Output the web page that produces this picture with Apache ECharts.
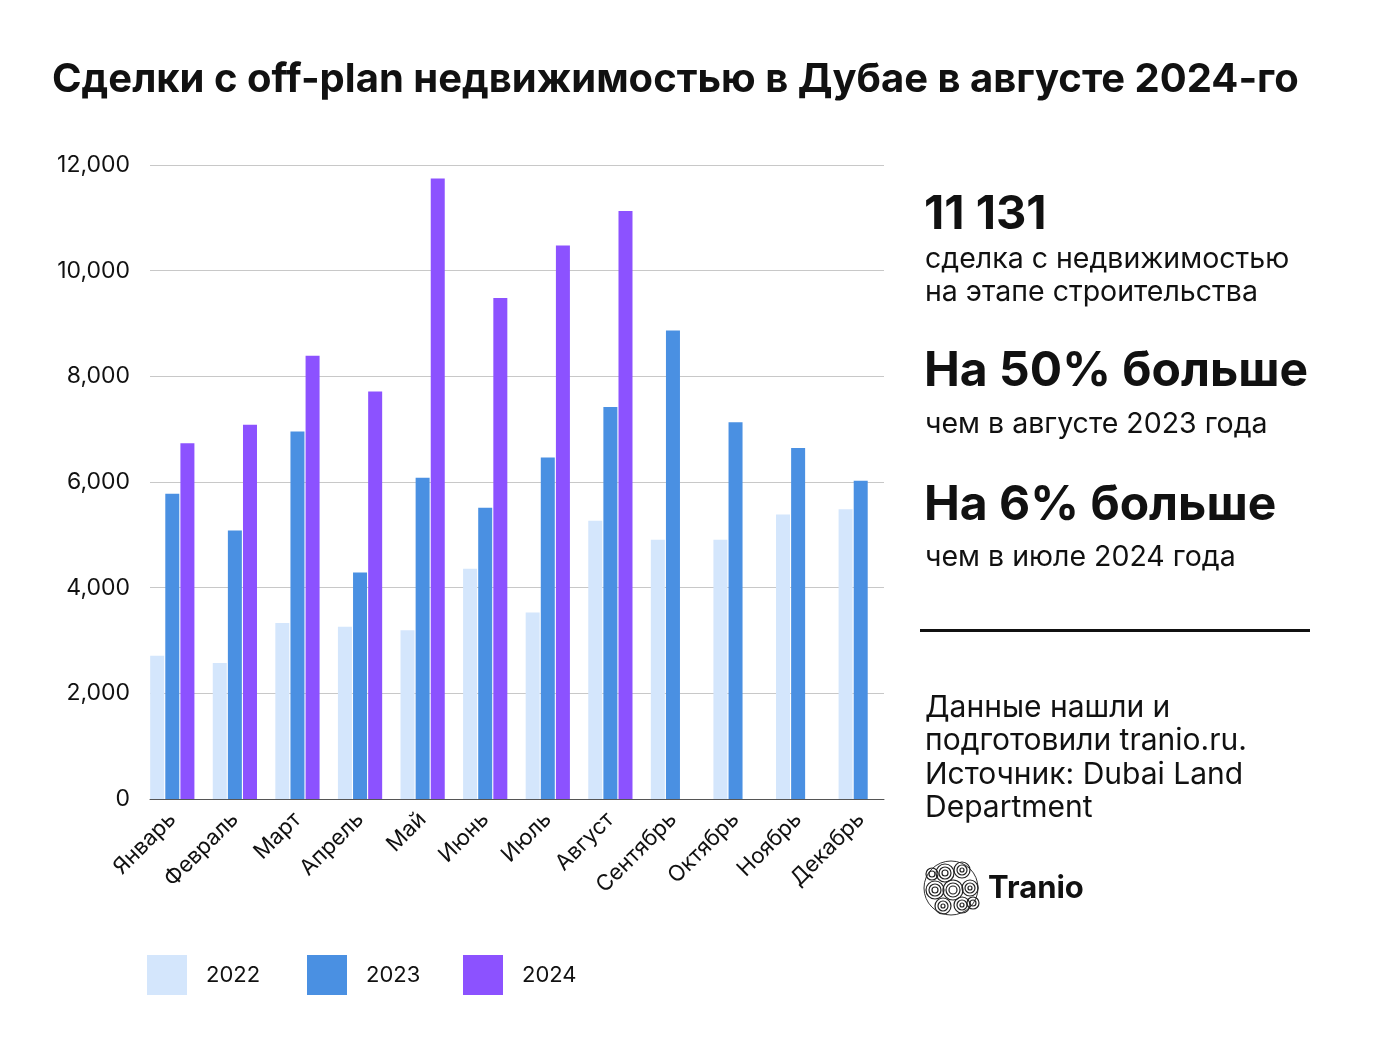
<!DOCTYPE html>
<html><head><meta charset="utf-8">
<script src="https://cdn.jsdelivr.net/npm/echarts@6/dist/echarts.min.js"></script>
<style>html,body{margin:0;padding:0;background:#fff}#c{width:1386px;height:1040px}</style>
</head><body><div id="c"></div>
<script>
const months = ['Январь','Февраль','Март','Апрель','Май','Июнь','Июль','Август','Сентябрь','Октябрь','Ноябрь','Декабрь'];
const s2022 = [2710, 2575, 3330, 3260, 3195, 4360, 3530, 5267, 4908, 4908, 5386, 5482];
const s2023 = [5777, 5084, 6956, 4287, 6080, 5514, 6462, 7418, 8869, 7131, 6645, 6024];
const s2024 = [6733, 7084, 8390, 7713, 11745, 9482, 10478, 11131, null, null, null, null];
const yTicks = [0, 2000, 4000, 6000, 8000, 10000, 12000];
const seriesNames = ['2022', '2023', '2024'];
const colors = ['#d4e6fc', '#4a90e2', '#8c52ff'];

const FONT = 'Inter, "Noto Sans", sans-serif';
const chart = echarts.init(document.getElementById('c'));

function txt(x, y, s, size, weight) {
  return { type: 'text', x: x, y: y, style: { text: s, fontSize: size, fontWeight: weight || 'normal', fontFamily: FONT, fill: '#111', verticalAlign: 'middle', align: 'left' } };
}

const logoArcs = [];
const spirals = [[945,873,9],[962,870,8],[935,890,9],[953,890,10],[970,888,8],[943,906,8],[962,905,8],[932,874,6],[973,903,6]];
spirals.forEach(([cx,cy,r]) => {
  for (let k = r; k > 1; k -= 3) {
    logoArcs.push({ type: 'circle', shape: { cx, cy, r: k }, style: { fill: null, stroke: '#222', lineWidth: 1.2 } });
  }
});

chart.setOption({
  animation: false,
  textStyle: { fontFamily: FONT },
  grid: [
    { left: 150, right: 502, top: 165, bottom: 241 },
    { left: 141, right: 494, top: 165, bottom: 241 }
  ],
  legend: seriesNames.map((n, i) => ({
    data: [n], left: [147, 307, 463][i], top: 955, padding: 0, itemWidth: 40, itemHeight: 40, icon: 'rect',
    textStyle: { fontSize: 22, color: '#111', padding: [0, 0, 0, 14], fontFamily: FONT }
  })),
  xAxis: [
    { type: 'category', gridIndex: 0, data: months,
      axisTick: { show: false }, axisLabel: { show: false },
      axisLine: { lineStyle: { color: '#555', width: 1 } } },
    { type: 'category', gridIndex: 1, data: months,
      axisTick: { show: false }, axisLine: { show: false },
      axisLabel: { rotate: 45, fontSize: 22, color: '#111', margin: 17, interval: 0 } }
  ],
  yAxis: [
    { type: 'value', gridIndex: 0, min: 0, max: 12000, interval: 2000,
      axisLabel: { fontSize: 23, color: '#111', margin: 20, formatter: v => v.toLocaleString('en-US') },
      splitLine: { lineStyle: { color: '#c8c8c8', width: 1 } },
      axisLine: { show: false }, axisTick: { show: false } },
    { type: 'value', gridIndex: 1, min: 0, max: 12000, interval: 2000, show: false, splitLine: { show: false } }
  ],
  series: [s2022, s2023, s2024].map((d, i) => ({
    name: seriesNames[i], type: 'bar', xAxisIndex: 1, yAxisIndex: 1, data: d,
    barWidth: 14, barGap: '8%',
    itemStyle: { color: colors[i] }
  })),
  graphic: [
    txt(52, 80, 'Сделки с off-plan недвижимостью в Дубае в августе 2024-го', 40, 'bold'),
    txt(924, 215, '11 131', 47, 'bold'),
    txt(925, 259, 'сделка с недвижимостью', 28.5),
    txt(925, 292, 'на этапе строительства', 28.5),
    txt(924, 372, 'На 50% больше', 48, 'bold'),
    txt(925, 424, 'чем в августе 2023 года', 28.5),
    txt(924, 506, 'На 6% больше', 48, 'bold'),
    txt(925, 557, 'чем в июле 2024 года', 28.5),
    { type: 'rect', shape: { x: 920, y: 629, width: 390, height: 3 }, style: { fill: '#111' } },
    txt(925, 708, 'Данные нашли и', 30),
    txt(925, 741, 'подготовили tranio.ru.', 30),
    txt(925, 775, 'Источник: Dubai Land', 30),
    txt(925, 808, 'Department', 30),
    { type: 'circle', shape: { cx: 951, cy: 888, r: 27 }, style: { fill: '#fff', stroke: '#333', lineWidth: 1 } },
    { type: 'group', children: logoArcs },
    txt(988, 889, 'Tranio', 31, 'bold')
  ]
});
</script></body></html>
